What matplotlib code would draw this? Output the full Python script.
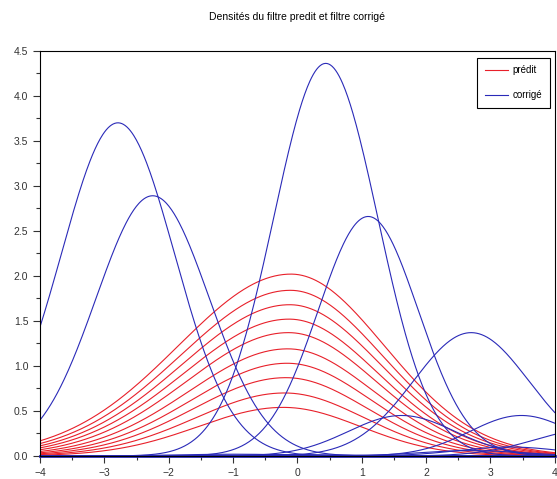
import numpy as np
import matplotlib
matplotlib.use('Agg')
import matplotlib.pyplot as plt
from matplotlib.ticker import MultipleLocator

plt.rcParams['font.family'] = ['Liberation Sans', 'DejaVu Sans']

# filtre predit : pic, moyenne, ecart gauche, ecart droit
red_peak = [2.02, 1.84, 1.68, 1.52, 1.37, 1.19, 1.03, 0.87, 0.70, 0.54]
red_mu = [-0.10, -0.11, -0.12, -0.13, -0.14, -0.15, -0.16, -0.18, -0.20, -0.22]
red_sl = [1.75, 1.71, 1.67, 1.63, 1.58, 1.53, 1.48, 1.43, 1.38, 1.32]
red_sr = [1.45, 1.43, 1.41, 1.38, 1.36, 1.33, 1.30, 1.27, 1.24, 1.20]

# filtre corrige : pic, moyenne, ecart-type
blue_peak = [3.70, 2.89, 4.36, 2.66, 1.37, 0.45, 0.45, 0.30, 0.06, 0.10, 0.02, 0.015]
blue_mu = [-2.79, -2.25, 0.44, 1.10, 2.70, 3.48, 1.62, 4.60, 2.70, 3.30, -1.00, 0.00]
blue_sd = [0.88, 0.88, 0.81, 0.78, 0.90, 0.80, 0.83, 0.90, 0.80, 0.80, 0.90, 0.90]

x = np.linspace(-4, 4, 600)

fig = plt.figure(figsize=(5.57, 4.79), dpi=100)
ax = fig.add_axes([0.072, 0.048, 0.924, 0.846])

for i in range(len(red_peak)):
    s = np.where(x < red_mu[i], red_sl[i], red_sr[i])
    y = red_peak[i] * np.exp(-(x - red_mu[i])**2 / (2 * s**2))
    ax.plot(x, y, color='#e8202a', lw=0.8, label='prédit' if i == 0 else None)

for i in range(len(blue_peak)):
    y = blue_peak[i] * np.exp(-(x - blue_mu[i])**2 / (2 * blue_sd[i]**2))
    ax.plot(x, y, color='#2a2ab8', lw=0.8, label='corrigé' if i == 0 else None)

ax.plot(x, np.zeros_like(x), color='#2a2ab8', lw=2.0, clip_on=False)

ax.set_xlim(-4, 4)
ax.set_ylim(0, 4.5)
ax.xaxis.set_major_locator(MultipleLocator(1))
ax.xaxis.set_minor_locator(MultipleLocator(0.5))
ax.yaxis.set_major_locator(MultipleLocator(0.5))
ax.yaxis.set_minor_locator(MultipleLocator(0.25))
ax.yaxis.set_major_formatter(plt.FormatStrFormatter('%.1f'))
ax.tick_params(which='both', direction='out', labelsize=7.5, colors='#333333', width=0.8)
ax.tick_params(which='major', length=5)
ax.tick_params(which='minor', length=3)
for sp in ax.spines.values():
    sp.set_linewidth(0.8)

ax.set_title('Densités du filtre predit et filtre corrigé', fontsize=7.5, pad=22)

leg = ax.legend(loc='upper right', fontsize=7, fancybox=False, framealpha=1,
                edgecolor='black', handlelength=2.4, handletextpad=0.4,
                borderpad=0.8, labelspacing=1.5, borderaxespad=0,
                bbox_to_anchor=(0.99, 0.983))
leg.get_frame().set_linewidth(0.8)

fig.savefig('out.png', dpi=100)
